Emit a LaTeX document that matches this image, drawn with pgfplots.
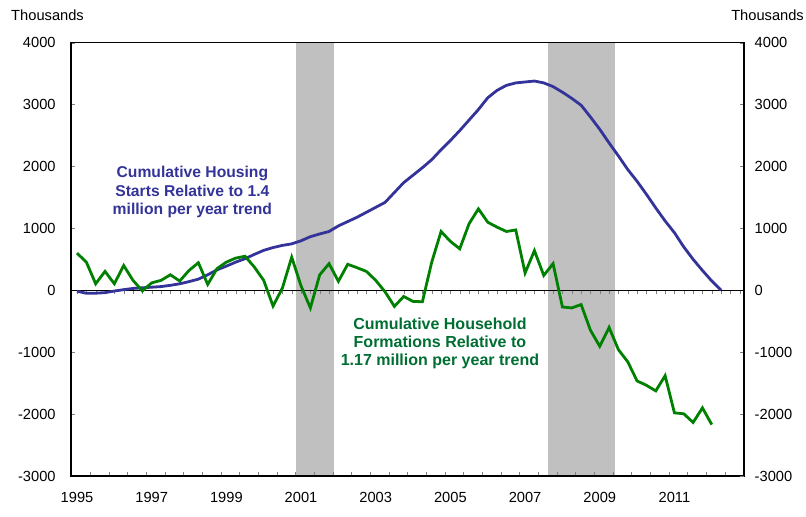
\documentclass[border=0pt]{standalone}
\usepackage{fontspec}
\setmainfont{Liberation Sans}
\usepackage{pgfplots}
\pgfplotsset{compat=1.18}
\definecolor{hblue}{RGB}{51,51,153}
\definecolor{hgreen}{RGB}{0,128,0}
\definecolor{tgreen}{RGB}{0,110,50}
\definecolor{recgray}{RGB}{192,192,192}
\begin{document}
\begin{tikzpicture}
\useasboundingbox (-53.25pt,-30.75pt) rectangle (551.25pt,357pt);
\pgfplotsset{common/.style={width=504.75pt,height=325pt,scale only axis,
  at={(0pt,0pt)}, anchor=south west,
  xmin=1994.839, xmax=2012.863, ymin=-3000, ymax=4000,
  /pgf/number format/assume math mode=true,
  /pgf/number format/1000 sep={},
  tick label style={font=\fontsize{11}{13}\selectfont},
  major tick length=3pt, minor tick length=3pt}}
% main axis: frame, recession shading, left labels, years
\begin{axis}[common, axis on top,
  axis line style={black, line width=0.8pt},
  xtick={1995,1997,...,2011},
  major x tick style={draw=none},
  minor xtick={1995.35,1995.85,...,2012.86},
  xtick pos=bottom, ytick pos=left, tick align=inside,
  ytick={-3000,-2000,...,4000},
  xticklabel style={yshift=-8.5pt},
  yticklabel style={xshift=-8pt},
]
\addplot[fill=recgray, draw=none] coordinates {(2000.87,-3000) (2000.87,4000) (2001.88,4000) (2001.88,-3000)} -- cycle;
\addplot[fill=recgray, draw=none] coordinates {(2007.61,-3000) (2007.61,4000) (2009.41,4000) (2009.41,-3000)} -- cycle;
\end{axis}
% overlay axis: zero line, right labels, data
\begin{axis}[common,
  axis x line*=middle, axis y line*=right,
  x axis line style={-, black, line width=0.6pt},
  y axis line style={-, black, line width=0.8pt},
  xtick={1995,1995.25,...,2012.8}, xticklabels={},
  xtick align=outside, ytick align=inside,
  ytick={-3000,-2000,...,4000},
  yticklabel pos=right,
  yticklabel style={xshift=4.5pt},
]
\addplot[hblue, line width=2.1pt] coordinates {
(1995.00,-15) (1995.25,-48) (1995.50,-47) (1995.75,-38)
(1996.00,-12) (1996.25,10) (1996.50,30) (1996.75,40)
(1997.00,50) (1997.25,60) (1997.50,80) (1997.75,105)
(1998.00,140) (1998.25,180) (1998.50,250) (1998.75,330)
(1999.00,390) (1999.25,455) (1999.50,510) (1999.75,580)
(2000.00,645) (2000.25,690) (2000.50,725) (2000.75,750)
(2001.00,800) (2001.25,866) (2001.50,910) (2001.75,950)
(2002.00,1040) (2002.25,1110) (2002.50,1180) (2002.75,1260)
(2003.00,1340) (2003.25,1420) (2003.50,1580) (2003.75,1740)
(2004.00,1860) (2004.25,1980) (2004.50,2110) (2004.75,2270)
(2005.00,2420) (2005.25,2580) (2005.50,2750) (2005.75,2920)
(2006.00,3110) (2006.25,3230) (2006.50,3310) (2006.75,3350)
(2007.00,3365) (2007.25,3380) (2007.50,3350) (2007.75,3290)
(2008.00,3200) (2008.25,3100) (2008.50,2990) (2008.75,2800)
(2009.00,2600) (2009.25,2380) (2009.50,2170) (2009.75,1950)
(2010.00,1760) (2010.25,1550) (2010.50,1330) (2010.75,1120)
(2011.00,930) (2011.25,700) (2011.50,500) (2011.75,320)
(2012.00,150) (2012.25,0)
};
\addplot[hgreen, line width=2.1pt] coordinates {
(1995.00,600) (1995.25,455) (1995.50,105) (1995.75,305)
(1996.00,105) (1996.25,400) (1996.50,160) (1996.75,-10)
(1997.00,120) (1997.25,160) (1997.50,250) (1997.75,150)
(1998.00,320) (1998.25,445) (1998.50,95) (1998.75,350)
(1999.00,455) (1999.25,520) (1999.50,550) (1999.75,375)
(2000.00,160) (2000.25,-255) (2000.50,35) (2000.75,535)
(2001.00,70) (2001.25,-285) (2001.50,250) (2001.75,430)
(2002.00,145) (2002.25,420) (2002.50,365) (2002.75,305)
(2003.00,160) (2003.25,-25) (2003.50,-260) (2003.75,-100)
(2004.00,-180) (2004.25,-185) (2004.50,455) (2004.75,950)
(2005.00,790) (2005.25,670) (2005.50,1075) (2005.75,1315)
(2006.00,1100) (2006.25,1020) (2006.50,950) (2006.75,975)
(2007.00,280) (2007.25,640) (2007.50,240) (2007.75,430)
(2008.00,-270) (2008.25,-285) (2008.50,-230) (2008.75,-645)
(2009.00,-905) (2009.25,-600) (2009.50,-960) (2009.75,-1155)
(2010.00,-1465) (2010.25,-1535) (2010.50,-1625) (2010.75,-1380)
(2011.00,-1980) (2011.25,-1995) (2011.50,-2135) (2011.75,-1900)
(2012.00,-2170)
};
\node[align=center, text=hblue, font=\fontsize{11.75}{14}\selectfont\bfseries]
  at (axis cs:1998.09,1588) {Cumulative Housing\\Starts Relative to 1.4\\million per year trend};
\node[align=center, text=tgreen, font=\fontsize{12}{13.5}\selectfont\bfseries]
  at (axis cs:2004.72,-851) {Cumulative Household\\Formations Relative to\\1.17 million per year trend};
\end{axis}
\node[font=\fontsize{11}{13}\selectfont] at (-17.6pt,345.5pt) {Thousands};
\node[font=\fontsize{11}{13}\selectfont] at (522.4pt,345.5pt) {Thousands};
\end{tikzpicture}
\end{document}
